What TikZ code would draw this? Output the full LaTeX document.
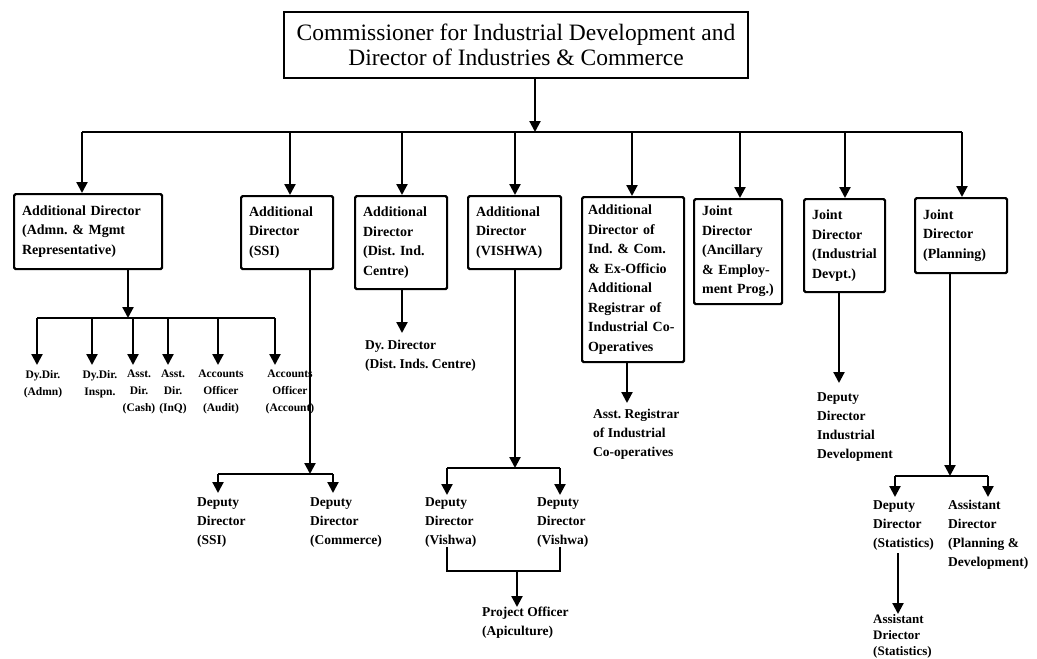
\documentclass[tikz,border=0pt]{standalone}
\usepackage{fontspec}
\setmainfont{Liberation Serif}
\usetikzlibrary{arrows.meta}
\frenchspacing
\newcommand\headfont{\fontsize{23.5}{25}\selectfont}
\newcommand\boxfont{\bfseries\fontsize{14}{19.5}\selectfont}
\newcommand\subfont{\bfseries\fontsize{13.5}{19}\selectfont}
\newcommand\smallfont{\bfseries\fontsize{11.5}{17}\selectfont}
\begin{document}
\begin{tikzpicture}[x=1pt,y=-1pt,
  ln/.style={line width=2.2pt},
  arr/.style={line width=2.2pt,-{Triangle[length=11pt,width=11pt]}},
  topbox/.style={draw,line width=2pt,minimum width=464pt,minimum height=66pt,
    align=center,font=\headfont,inner sep=0pt},
  orgbox/.style={draw,line width=2.2pt,rounded corners=1.5pt,anchor=north west,
    align=left,font=\boxfont,inner xsep=8pt,inner ysep=4pt},
  lbl/.style={anchor=north west,align=left,font=\subfont,inner sep=0pt},
  tinylbl/.style={anchor=north,align=center,font=\smallfont,inner sep=0pt}]
\useasboundingbox (0,0) rectangle (1037,659);

% head of the department
\node[topbox] (top) at (516,45)
  {Commissioner for Industrial Development and\\Director of Industries \& Commerce};

% first level
\node[orgbox,text width=132pt,minimum height=75pt] (b1) at (13,193)
  {Additional Director\\(Admn. \& Mgmt\\Representative)};
\node[orgbox,text width=76pt,minimum height=73pt] (b2) at (240,195)
  {Additional\\Director\\(SSI)};
\node[orgbox,text width=76pt,minimum height=93pt] (b3) at (354,195)
  {Additional\\Director\\(Dist. Ind.\\Centre)};
\node[orgbox,text width=77pt,minimum height=73pt] (b4) at (467,195)
  {Additional\\Director\\(VISHWA)};
\node[orgbox,inner xsep=6pt,text width=90pt,minimum height=165pt] (b5) at (581,196)
  {Additional\\Director of\\Ind. \& Com.\\\& Ex-Officio\\Additional\\Registrar of\\\mbox{Industrial Co-}\\Operatives};
\node[orgbox,text width=72pt,minimum height=105pt] (b6) at (693,198)
  {Joint\\Director\\(Ancillary\\\& Employ-\\ment Prog.)};
\node[orgbox,text width=65pt,minimum height=93pt] (b7) at (803,198)
  {Joint\\Director\\(Industrial\\Devpt.)};
\node[orgbox,text width=76pt,minimum height=75pt] (b8) at (914,197)
  {Joint\\Director\\(Planning)};

% main distribution line
\coordinate (jm) at (535,132);
\coordinate (j1) at (82,132);
\coordinate (j2) at (290,132);
\coordinate (j3) at (402,132);
\coordinate (j4) at (515,132);
\coordinate (j5) at (632,132);
\coordinate (j6) at (740,132);
\coordinate (j7) at (845,132);
\coordinate (j8) at (962,132);
\draw[arr] (top.south -| jm) -- (jm);
\draw[ln] (j1) -- (j8);
\foreach \j/\b in {j1/b1,j2/b2,j3/b3,j4/b4,j5/b5,j6/b6,j7/b7,j8/b8}
  \draw[arr] (\j) -- (\j |- \b.north);

% Admn. & Mgmt branch
\coordinate (s1) at (128,318);
\coordinate (s1a) at (37,318);
\coordinate (s1f) at (275,318);
\draw[arr] (b1.south -| s1) -- (s1);
\draw[ln] (s1a) -- (s1f);
\node[tinylbl] (a1) at (43,370) {Dy.Dir.\\(Admn)};
\node[tinylbl] (a2) at (100,370) {Dy.Dir.\\Inspn.};
\node[tinylbl] (a3) at (139,370) {Asst.\\Dir.\\(Cash)};
\node[tinylbl] (a4) at (173,370) {Asst.\\Dir.\\(InQ)};
\node[tinylbl] (a5) at (221,370) {Accounts\\Officer\\(Audit)};
\node[tinylbl] (a6) at (290,370) {Accounts\\Officer\\(Account)};
\foreach \x/\a in {37/a1,92/a2,133/a3,168/a4,218/a5,275/a6}
  \draw[arr] (\x,318) -- (\x,365);

% SSI branch
\coordinate (s2) at (310,474);
\coordinate (s2a) at (218,474);
\coordinate (s2b) at (333,474);
\draw[arr] (b2.south -| s2) -- (s2);
\draw[ln] (s2a) -- (s2b);
\node[lbl] (c1) at (197,497) {Deputy\\Director\\(SSI)};
\node[lbl] (c2) at (310,497) {Deputy\\Director\\(Commerce)};
\draw[arr] (s2a) -- (s2a |- 0,493);
\draw[arr] (s2b) -- (s2b |- 0,493);

% District Industries Centre branch
\coordinate (t3) at (402,333);
\draw[arr] (b3.south -| t3) -- (t3);
\node[lbl] (d3) at (365,340) {Dy. Director\\(Dist. Inds. Centre)};

% VISHWA branch
\coordinate (s4) at (515,468);
\coordinate (s4a) at (447,468);
\coordinate (s4b) at (560,468);
\draw[arr] (b4.south -| s4) -- (s4);
\draw[ln] (s4a) -- (s4b);
\node[lbl] (v1) at (425,497) {Deputy\\Director\\(Vishwa)};
\node[lbl] (v2) at (537,497) {Deputy\\Director\\(Vishwa)};
\draw[arr] (s4a) -- (s4a |- 0,495);
\draw[arr] (s4b) -- (s4b |- 0,495);
\coordinate (r4a) at (447,571);
\coordinate (r4b) at (560,571);
\coordinate (r4m) at (517,571);
\draw[ln] (v1.south -| r4a) -- (r4a) -- (r4b) -- (v2.south -| r4b);
\node[lbl] (p4) at (482,607) {Project Officer\\(Apiculture)};
\draw[arr] (r4m) -- (r4m |- p4.north);

% Registrar branch
\coordinate (t5) at (627,403);
\draw[arr] (b5.south -| t5) -- (t5);
\node[lbl] (d5) at (593,409) {Asst. Registrar\\of Industrial\\Co-operatives};

% Industrial Development branch
\coordinate (t7) at (839,383);
\draw[arr] (b7.south -| t7) -- (t7);
\node[lbl] (d7) at (817,392) {Deputy\\Director\\Industrial\\Development};

% Planning branch
\coordinate (s8) at (950,476);
\coordinate (s8a) at (895,476);
\coordinate (s8b) at (988,476);
\draw[arr] (b8.south -| s8) -- (s8);
\draw[ln] (s8a) -- (s8b);
\draw[arr] (s8a) -- (s8a |- 0,497);
\draw[arr] (s8b) -- (s8b |- 0,497);
\node[lbl] (e1) at (873,500) {Deputy\\Director\\(Statistics)};
\node[lbl] (e2) at (948,500) {Assistant\\Director\\(Planning \&\\Development)};
\coordinate (u8) at (898,553);
\node[lbl,font=\bfseries\fontsize{13}{16}\selectfont] (e3) at (873,614) {Assistant\\Driector\\(Statistics)};
\draw[arr] (u8) -- (u8 |- e3.north);
\end{tikzpicture}
\end{document}
